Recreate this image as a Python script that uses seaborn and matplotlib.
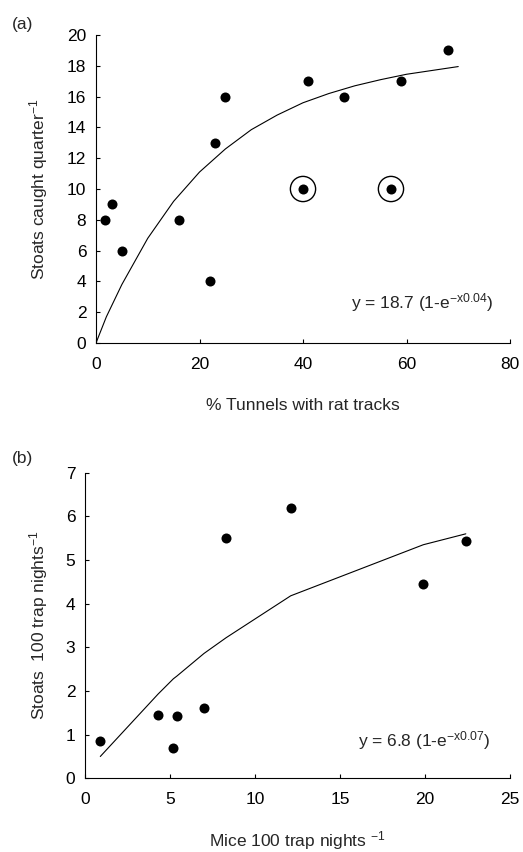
import matplotlib
matplotlib.use("Agg")
import matplotlib.pyplot as plt
import seaborn as sns
import pandas as pd

# Panel (a) data
rat_tracks = [1.7, 3, 5, 16, 22, 23, 25, 40, 41, 48, 57, 59, 68]
stoats_caught = [8, 9, 6, 8, 4, 13, 16, 10, 17, 16, 10, 17, 19]
circled_x = [40, 57]
circled_y = [10, 10]
fit_a_x = [0, 2, 5, 10, 15, 20, 25, 30, 35, 40, 45, 50, 55, 60, 65, 70]
fit_a_y = [0, 1.7, 3.8, 6.8, 9.2, 11.1, 12.6, 13.85, 14.8, 15.6, 16.2, 16.7, 17.1, 17.45, 17.7, 17.95]

# Panel (b) data
mice = [0.9, 4.3, 5.2, 5.4, 7.0, 8.3, 12.1, 19.9, 22.4]
stoats_100 = [0.85, 1.45, 0.7, 1.42, 1.62, 5.5, 6.2, 4.45, 5.43]
fit_b_x = [0.9, 4.3, 5.2, 5.4, 7.0, 8.3, 12.1, 19.9, 22.4]
fit_b_y = [0.5, 1.93, 2.28, 2.34, 2.86, 3.22, 4.18, 5.35, 5.6]

sns.set_style("ticks")
plt.rcParams['font.family'] = ['Liberation Sans', 'DejaVu Sans']
plt.rcParams['mathtext.fontset'] = 'custom'
plt.rcParams['mathtext.rm'] = 'Liberation Sans'
plt.rcParams['mathtext.it'] = 'Liberation Sans'

FS = 12.5

fig = plt.figure(figsize=(5.23, 8.52), dpi=100)
ax1 = fig.add_axes([96/523, 1-343/852, (510-96)/523, (343-35)/852])
ax2 = fig.add_axes([85/523, 1-778.3/852, (510-85)/523, (778.3-472.7)/852])

df_a = pd.DataFrame({"x": rat_tracks, "y": stoats_caught})
df_fa = pd.DataFrame({"x": fit_a_x, "y": fit_a_y})
df_c = pd.DataFrame({"x": circled_x, "y": circled_y})
sns.lineplot(data=df_fa, x="x", y="y", ax=ax1, color="black", lw=0.8, sort=False)
sns.scatterplot(data=df_a, x="x", y="y", ax=ax1, color="black", s=52, edgecolor="black", linewidth=0, zorder=3)
sns.scatterplot(data=df_c, x="x", y="y", ax=ax1, facecolor="none", edgecolor="black", s=330, linewidth=1.0, zorder=3)

df_b = pd.DataFrame({"x": mice, "y": stoats_100})
df_fb = pd.DataFrame({"x": fit_b_x, "y": fit_b_y})
sns.lineplot(data=df_fb, x="x", y="y", ax=ax2, color="black", lw=0.8, sort=False)
sns.scatterplot(data=df_b, x="x", y="y", ax=ax2, color="black", s=52, edgecolor="black", linewidth=0, zorder=3)

for ax in (ax1, ax2):
    sns.despine(ax=ax)
    for s in ("left", "bottom"):
        ax.spines[s].set_linewidth(0.8)
        ax.spines[s].set_color("black")
    ax.tick_params(direction="in", length=3, width=0.8, labelsize=FS, colors="black", pad=7)
    ax.tick_params(axis="x", pad=10)

ax1.set_xlim(0, 80)
ax1.set_ylim(0, 20)
ax1.set_xticks([0, 20, 40, 60, 80])
ax1.set_yticks(range(0, 21, 2))
ax1.set_xlabel("% Tunnels with rat tracks", fontsize=FS, labelpad=19)
ax1.set_ylabel("Stoats caught quarter$^{-1}$", fontsize=FS, labelpad=12)
ax1.text(0.787, 0.13, "y = 18.7 (1-e$^{-x0.04}$)", transform=ax1.transAxes, ha="center", va="center", fontsize=FS)

ax2.set_xlim(0, 25)
ax2.set_ylim(0, 7)
ax2.set_xticks([0, 5, 10, 15, 20, 25])
ax2.set_yticks(range(0, 8))
ax2.set_xlabel("Mice 100 trap nights $^{-1}$", fontsize=FS, labelpad=16)
ax2.set_ylabel("Stoats  100 trap nights$^{-1}$", fontsize=FS, labelpad=11)
ax2.text(0.798, 0.125, "y = 6.8 (1-e$^{-x0.07}$)", transform=ax2.transAxes, ha="center", va="center", fontsize=FS)

fig.text(12/523, 1-24/852, "(a)", fontsize=FS, va="center", ha="left")
fig.text(12/523, 1-459/852, "(b)", fontsize=FS, va="center", ha="left")

fig.savefig("out.png", dpi=100)
